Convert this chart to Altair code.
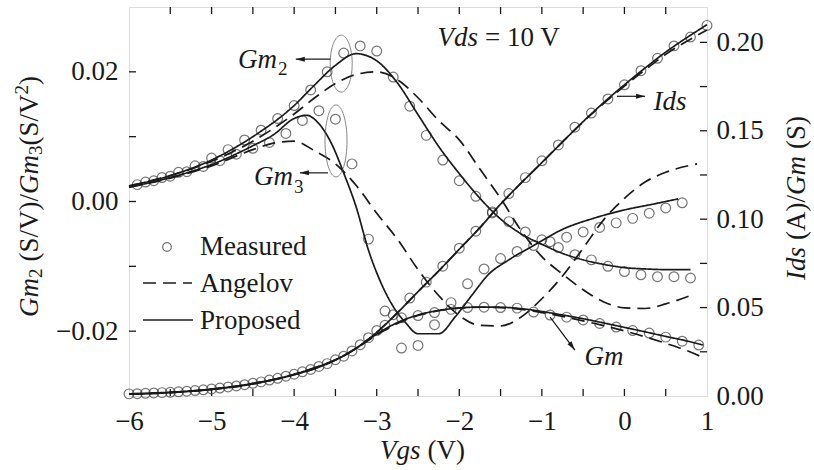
import altair as alt
import pandas as pd

FONT = "Liberation Serif"
INK = "#1a1a1a"
DOT = "#3c3c3c"

# ---------------- measured data (circles) ----------------
IDS_MEAS_X = [-6.0, -5.8, -5.6, -5.4, -5.2, -5.0, -4.8, -4.6, -4.4, -4.2, -4.0, -3.8,
              -3.6, -3.4, -3.2, -3.0, -2.8, -2.6, -2.4, -2.2, -2.0, -1.8, -1.6, -1.4,
              -1.2, -1.0, -0.8, -0.6, -0.4, -0.2, 0.0, 0.2, 0.4, 0.6, 0.8, 1.0]
IDS_MEAS = [0.0012, 0.0015, 0.0019, 0.0024, 0.0031, 0.0040, 0.0051, 0.0064, 0.0080, 0.0100,
            0.0123, 0.0150, 0.0183, 0.0225, 0.0290, 0.0370, 0.0460, 0.0554, 0.0644, 0.0734,
            0.0836, 0.0932, 0.1035, 0.1145, 0.1235, 0.1330, 0.1420, 0.1520, 0.1600, 0.1680,
            0.1760, 0.1840, 0.1910, 0.1980, 0.2030, 0.2096]

GM_MEAS_X = [-5.9, -5.7, -5.5, -5.3, -5.1, -4.9, -4.7, -4.5, -4.3, -4.1, -3.9, -3.7,
             -3.5, -3.3, -3.1, -2.9, -2.7, -2.5, -2.3, -2.1, -1.9, -1.7, -1.5, -1.3,
             -1.1, -0.9, -0.7, -0.5, -0.3, -0.1, 0.1, 0.3, 0.5, 0.7, 0.9]
GM_MEAS = [0.0013, 0.0017, 0.0021, 0.0027, 0.0035, 0.0045, 0.0057, 0.0072, 0.0090, 0.0112,
           0.0137, 0.0167, 0.0205, 0.0255, 0.0330, 0.0400, 0.0442, 0.0455, 0.0472, 0.0490,
           0.0500, 0.0502, 0.0500, 0.0497, 0.0475, 0.0458, 0.0446, 0.0430, 0.0410, 0.0390,
           0.0370, 0.0356, 0.0333, 0.0310, 0.0288]

GM2_MEAS_X = [-5.8, -5.6, -5.4, -5.2, -5.0, -4.8, -4.6, -4.4, -4.2, -4.0, -3.8, -3.6,
              -3.4, -3.2, -3.0, -2.8, -2.6, -2.4, -2.2, -2.0, -1.8, -1.6, -1.4, -1.2,
              -1.0, -0.8, -0.6, -0.4, -0.2, 0.0, 0.2, 0.4, 0.6, 0.8]
GM2_MEAS = [0.0030, 0.0037, 0.0045, 0.0055, 0.0067, 0.0080, 0.0095, 0.0110, 0.0128, 0.0148,
            0.0172, 0.0200, 0.0229, 0.0240, 0.0232, 0.0192, 0.0147, 0.0102, 0.0064, 0.0032,
            0.0008, -0.0016, -0.0031, -0.0047, -0.0059, -0.0071, -0.0082, -0.0090, -0.0100,
            -0.0108, -0.0113, -0.0116, -0.0116, -0.0118]

GM3_MEAS_X = [-5.9, -5.7, -5.5, -5.3, -5.1, -4.9, -4.7, -4.5, -4.3, -4.1, -3.9, -3.7,
              -3.5, -3.3, -3.1, -2.9, -2.7, -2.5, -2.3, -2.1, -1.9, -1.7, -1.5, -1.3,
              -1.1, -0.9, -0.7, -0.5, -0.3, -0.1, 0.1, 0.3, 0.5, 0.7]
GM3_MEAS = [0.0026, 0.0032, 0.0039, 0.0046, 0.0054, 0.0063, 0.0073, 0.0082, 0.0091, 0.0105,
            0.0125, 0.0140, 0.0127, 0.0058, -0.0058, -0.0169, -0.0226, -0.0222, -0.0190,
            -0.0156, -0.0127, -0.0104, -0.0088, -0.0077, -0.0068, -0.0062, -0.0055, -0.0047,
            -0.0040, -0.0033, -0.0026, -0.0018, -0.0010, -0.0002]

# ---------------- model curves ----------------
IDS_LINE_X = [-6.0, -5.5, -5.0, -4.5, -4.0, -3.75, -3.5, -3.25, -3.0, -2.75, -2.5, -2.25,
              -2.0, -1.75, -1.5, -1.25, -1.0, -0.75, -0.5, -0.25, 0.0, 0.25, 0.5, 0.75, 1.0]
IDS_PROP = [0.0010, 0.0019, 0.0037, 0.0068, 0.0120, 0.0155, 0.0203, 0.0270, 0.0360, 0.0470,
            0.0590, 0.0707, 0.0830, 0.0952, 0.1085, 0.1205, 0.1320, 0.1437, 0.1552, 0.1660,
            0.1760, 0.1855, 0.1945, 0.2025, 0.2100]
IDS_ANG = [0.0010, 0.0019, 0.0037, 0.0068, 0.0120, 0.0155, 0.0203, 0.0270, 0.0360, 0.0470,
           0.0590, 0.0707, 0.0830, 0.0952, 0.1085, 0.1205, 0.1320, 0.1437, 0.1550, 0.1655,
           0.1752, 0.1845, 0.1932, 0.2005, 0.2070]

GM_LINE_X = [-6.0, -5.5, -5.0, -4.5, -4.0, -3.75, -3.5, -3.25, -3.0, -2.75, -2.5, -2.25,
             -2.0, -1.75, -1.5, -1.25, -1.0, -0.75, -0.5, -0.25, 0.0, 0.25, 0.5, 0.75, 0.95]
GM_PROP = [0.0012, 0.0021, 0.0039, 0.0071, 0.0123, 0.0160, 0.0205, 0.0270, 0.0350, 0.0415,
           0.0458, 0.0484, 0.0498, 0.0503, 0.0502, 0.0494, 0.0478, 0.0458, 0.0437, 0.0413,
           0.0388, 0.0363, 0.0337, 0.0312, 0.0288]
GM_ANG = [0.0012, 0.0021, 0.0039, 0.0071, 0.0123, 0.0160, 0.0205, 0.0268, 0.0345, 0.0410,
          0.0455, 0.0482, 0.0497, 0.0502, 0.0500, 0.0490, 0.0472, 0.0450, 0.0425, 0.0398,
          0.0368, 0.0335, 0.0298, 0.0258, 0.0218]

GM2_LINE_X = [-6.0, -5.5, -5.0, -4.5, -4.0, -3.75, -3.5, -3.25, -3.0, -2.75, -2.5, -2.25,
              -2.0, -1.75, -1.5, -1.25, -1.0, -0.75, -0.5, -0.25, 0.0, 0.25, 0.5, 0.8]
GM2_PROP = [0.0024, 0.0040, 0.0064, 0.0100, 0.0148, 0.0180, 0.0210, 0.0228, 0.0217, 0.0183,
            0.0134, 0.0085, 0.0043, 0.0005, -0.0027, -0.0050, -0.0066, -0.0080, -0.0090,
            -0.0097, -0.0102, -0.0104, -0.0105, -0.0105]
GM2_ANG = [0.0024, 0.0040, 0.0062, 0.0093, 0.0135, 0.0160, 0.0182, 0.0196, 0.0200, 0.0188,
           0.0160, 0.0125, 0.0095, 0.0050, 0.0005, -0.0045, -0.0085, -0.0112, -0.0136,
           -0.0155, -0.0164, -0.0165, -0.0158, -0.0145]

GM3_PROP_X = [-6.0, -5.5, -5.0, -4.5, -4.25, -4.0, -3.85, -3.7, -3.55, -3.4, -3.25, -3.1,
              -2.95, -2.8, -2.65, -2.5, -2.25, -2.05, -1.85, -1.65, -1.4, -1.1, -0.75,
              -0.35, 0.0, 0.35, 0.65]
GM3_PROP = [0.0022, 0.0037, 0.0057, 0.0086, 0.0103, 0.0128, 0.0133, 0.0120, 0.0090, 0.0044,
            -0.0008, -0.0075, -0.0125, -0.0162, -0.0187, -0.0204, -0.0204, -0.0178, -0.0145,
            -0.0113, -0.0090, -0.0068, -0.0043, -0.0025, -0.0013, -0.0004, 0.0004]
GM3_ANG_X = [-6.0, -5.5, -5.0, -4.5, -4.25, -4.0, -3.75, -3.5, -3.25, -3.0, -2.75, -2.5,
             -2.25, -2.0, -1.75, -1.5, -1.25, -1.0, -0.75, -0.5, -0.25, 0.0, 0.25, 0.5, 0.88]
GM3_ANG = [0.0022, 0.0036, 0.0055, 0.0080, 0.0090, 0.0093, 0.0078, 0.0058, 0.0025, -0.0018,
           -0.0058, -0.0105, -0.0145, -0.0176, -0.0191, -0.0192, -0.0178, -0.0150, -0.0115,
           -0.0072, -0.0028, 0.0005, 0.0030, 0.0045, 0.0058]

# ---------------- axes ----------------
X_LABELS = [-6, -5, -4, -3, -2, -1, 0, 1]
X_MINOR = [-5.5, -5.0, -4.5, -4.0, -3.5, -3.0, -2.5, -2.0, -1.5, -1.0, -0.5, 0.0, 0.5]
LEFT_LABELS = [-0.02, 0.0, 0.02]
LEFT_MINOR = [-0.02, -0.01, 0.0, 0.01, 0.02]
RIGHT_LABELS = [0.0, 0.05, 0.10, 0.15, 0.20]
RIGHT_MINOR = [0.025, 0.05, 0.075, 0.10, 0.125, 0.15, 0.175, 0.20]
LEGEND_LABELS = ["Measured", "Angelov", "Proposed"]

W, H = 578, 389
XS = alt.Scale(domain=[-6, 1], nice=False, zero=False)
LS = alt.Scale(domain=[-0.03, 0.03], nice=False, zero=False)
RS = alt.Scale(domain=[0, 0.22], nice=False, zero=False)


def frame(xs, vs, curve, model=None):
    d = pd.DataFrame({"x": xs, "v": vs, "curve": curve})
    if model:
        d["model"] = model
    return d


left_pts = pd.concat([frame(GM2_MEAS_X, GM2_MEAS, "Gm2"), frame(GM3_MEAS_X, GM3_MEAS, "Gm3")])
right_pts = pd.concat([frame(IDS_MEAS_X, IDS_MEAS, "Ids"), frame(GM_MEAS_X, GM_MEAS, "Gm")])
left_lines = pd.concat([
    frame(GM2_LINE_X, GM2_PROP, "Gm2 p", "Proposed"),
    frame(GM2_LINE_X, GM2_ANG, "Gm2 a", "Angelov"),
    frame(GM3_PROP_X, GM3_PROP, "Gm3 p", "Proposed"),
    frame(GM3_ANG_X, GM3_ANG, "Gm3 a", "Angelov"),
])
right_lines = pd.concat([
    frame(IDS_LINE_X, IDS_PROP, "Ids p", "Proposed"),
    frame(IDS_LINE_X, IDS_ANG, "Ids a", "Angelov"),
    frame(GM_LINE_X, GM_PROP, "Gm p", "Proposed"),
    frame(GM_LINE_X, GM_ANG, "Gm a", "Angelov"),
])

label_style = dict(ticks=False, domain=False, grid=False, labelFont=FONT, labelFontSize=27,
                   labelColor=INK, labelOverlap=False, title=None)
x_axis = alt.Axis(values=X_LABELS, format="d", labelPadding=12, labelFlush=False, **label_style)
left_axis = alt.Axis(orient="left", values=LEFT_LABELS, format=".2f", labelPadding=11, **label_style)
right_axis = alt.Axis(orient="right", values=RIGHT_LABELS, format=".2f", labelPadding=9, **label_style)

dash = alt.StrokeDash("model:N", scale=alt.Scale(domain=["Angelov", "Proposed"], range=[[13, 7], [1, 0]]),
                      legend=None)

# every layer carries the same axis definition so the shared axes merge cleanly
XN = alt.X("x:Q", scale=XS, axis=x_axis)
X2N = alt.X("x2:Q", scale=XS, axis=x_axis)
YL = alt.Y("v:Q", scale=LS, axis=left_axis)
YL2 = alt.Y("v2:Q", scale=LS, axis=left_axis)
YR = alt.Y("v:Q", scale=RS, axis=right_axis)
YR2 = alt.Y("v2:Q", scale=RS, axis=right_axis)

ARROW = "M0,0 L0.55,2 L-0.55,2 Z"


def ellipse(rx):
    k = 0.5523
    a, b = k * rx, rx
    return (f"M0,-1 C{a:.3f},-1 {b:.3f},-{k} {b:.3f},0 C{b:.3f},{k} {a:.3f},1 0,1 "
            f"C-{a:.3f},1 -{b:.3f},{k} -{b:.3f},0 C-{b:.3f},-{k} -{a:.3f},-1 0,-1 Z")


# ---------------- annotations ----------------
left_arrows = pd.DataFrame({"x": [-3.56, -3.59], "x2": [-3.98, -3.93],
                            "v": [0.02195, 0.00442], "v2": [0.02195, 0.00442], "ang": [270, 270]})
right_arrows = pd.DataFrame({"x": [-0.09, -0.90], "x2": [0.25, -0.60],
                             "v": [0.1695, 0.0446], "v2": [0.1695, 0.0260], "ang": [90, 143]})
left_italic = pd.DataFrame({"x": [-4.208, -4.014, -1.773], "v": [0.0206, 0.00257, 0.02395],
                            "t": ["Gm", "Gm", "Vds"]})
left_sub = pd.DataFrame({"x": [-4.196, -4.002], "v": [0.0195, 0.00134], "t": ["2", "3"]})
left_upright = pd.DataFrame({"x": [-1.773], "v": [0.02395], "t": ["= 10 V"]})
right_italic = pd.DataFrame({"x": [0.552, -0.247], "v": [0.1616, 0.0175], "t": ["Ids", "Gm"]})

one = pd.DataFrame({"k": [0]})


def px_text(text, x, y, size=27, italic=False, angle=0, align="left", baseline="alphabetic"):
    props = dict(align=align, baseline=baseline, font=FONT, fontSize=size, color=INK, angle=angle)
    if italic:
        props["fontStyle"] = "italic"
    return alt.Chart(one).mark_text(**props).encode(x=alt.value(x), y=alt.value(y), text=alt.value(text))


left_layers = [
    alt.Chart(left_pts).mark_point(shape="circle", filled=False, size=95, color=DOT, strokeWidth=1.2)
    .encode(x=XN, y=YL, detail="curve:N"),
    alt.Chart(left_lines).mark_line(color=INK, strokeWidth=1.7, interpolate="monotone")
    .encode(x=XN, y=YL, detail="curve:N", strokeDash=dash),
    # inward ticks on bottom, top and left edges
    alt.Chart(pd.DataFrame({"x": X_MINOR})).mark_rule(color=INK, strokeWidth=1.3)
    .encode(x=XN, y=alt.value(H), y2=alt.value(H - 7)),
    alt.Chart(pd.DataFrame({"x": X_MINOR})).mark_rule(color=INK, strokeWidth=1.3)
    .encode(x=XN, y=alt.value(0), y2=alt.value(7)),
    alt.Chart(pd.DataFrame({"v": LEFT_MINOR})).mark_rule(color=INK, strokeWidth=1.3)
    .encode(y=YL, x=alt.value(0), x2=alt.value(7)),
    # ellipses grouping the Gm2 / Gm3 curves
    alt.Chart(pd.DataFrame({"x": [-3.43], "v": [0.02126]}))
    .mark_point(shape=ellipse(0.386), size=3249, filled=False, color="#555", strokeWidth=1.0)
    .encode(x=XN, y=YL),
    alt.Chart(pd.DataFrame({"x": [-3.493], "v": [0.00934]}))
    .mark_point(shape=ellipse(0.306), size=5184, filled=False, color="#555", strokeWidth=1.0)
    .encode(x=XN, y=YL),
    alt.Chart(left_arrows).mark_rule(color=INK, strokeWidth=1.2)
    .encode(x=XN, x2="x2:Q", y=YL, y2="v2:Q"),
    alt.Chart(left_arrows).mark_point(shape=ARROW, filled=True, size=81, color=INK, opacity=1)
    .encode(x=X2N, y=YL2, angle=alt.Angle("ang:Q", scale=None)),
    alt.Chart(left_italic).mark_text(align="right", baseline="alphabetic", font=FONT, fontSize=27,
                                     fontStyle="italic", color=INK)
    .encode(x=XN, y=YL, text="t:N"),
    alt.Chart(left_sub).mark_text(align="left", baseline="alphabetic", font=FONT, fontSize=19, color=INK)
    .encode(x=XN, y=YL, text="t:N"),
    alt.Chart(left_upright).mark_text(align="left", baseline="alphabetic", font=FONT, fontSize=27,
                                      color=INK, dx=7)
    .encode(x=XN, y=YL, text="t:N"),
    # legend
    alt.Chart(one).mark_point(shape="circle", filled=False, size=75, color=DOT, strokeWidth=1.2)
    .encode(x=alt.value(38), y=alt.value(240)),
    alt.Chart(one).mark_rule(color=INK, strokeWidth=1.7, strokeDash=[13, 7])
    .encode(x=alt.value(14), x2=alt.value(63), y=alt.value(276)),
    alt.Chart(one).mark_rule(color=INK, strokeWidth=1.7)
    .encode(x=alt.value(14), x2=alt.value(64), y=alt.value(313)),
    px_text(LEGEND_LABELS[0], 71, 248),
    px_text(LEGEND_LABELS[1], 71, 285),
    px_text(LEGEND_LABELS[2], 71, 322),
    # x-axis title
    px_text("Vgs", 251, 452, italic=True),
    px_text("(V)", 298.5, 452),
    # left-axis title, read bottom to top
    px_text("Gm", -99, 310, italic=True, angle=270, baseline="middle"),
    px_text("2", -93, 271, size=19, angle=270, baseline="middle"),
    px_text("(S/V)/", -99, 254.5, angle=270, baseline="middle"),
    px_text("Gm", -99, 187, italic=True, angle=270, baseline="middle"),
    px_text("3", -93, 148, size=19, angle=270, baseline="middle"),
    px_text("(S/V", -99, 138.5, angle=270, baseline="middle"),
    px_text("2", -107, 87.5, size=19, angle=270, baseline="middle"),
    px_text(")", -99, 78, angle=270, baseline="middle"),
]

right_layers = [
    alt.Chart(right_pts).mark_point(shape="circle", filled=False, size=95, color=DOT, strokeWidth=1.2)
    .encode(x=XN, y=YR, detail="curve:N"),
    alt.Chart(right_lines).mark_line(color=INK, strokeWidth=1.7, interpolate="monotone")
    .encode(x=XN, y=YR, detail="curve:N", strokeDash=dash),
    alt.Chart(pd.DataFrame({"v": RIGHT_MINOR})).mark_rule(color=INK, strokeWidth=1.3)
    .encode(y=YR, x=alt.value(W - 7), x2=alt.value(W)),
    alt.Chart(right_arrows).mark_rule(color=INK, strokeWidth=1.2)
    .encode(x=XN, x2="x2:Q", y=YR, y2="v2:Q"),
    alt.Chart(right_arrows).mark_point(shape=ARROW, filled=True, size=81, color=INK, opacity=1)
    .encode(x=X2N, y=YR2, angle=alt.Angle("ang:Q", scale=None)),
    alt.Chart(right_italic).mark_text(align="center", baseline="alphabetic", font=FONT, fontSize=27,
                                      fontStyle="italic", color=INK)
    .encode(x=XN, y=YR, text="t:N"),
    # right-axis title, read bottom to top
    px_text("Ids", 668, 273, italic=True, angle=270, baseline="middle"),
    px_text("(A)/", 668, 233, angle=270, baseline="middle"),
    px_text("Gm", 668, 188, italic=True, angle=270, baseline="middle"),
    px_text("(S)", 668, 142, angle=270, baseline="middle"),
]

chart = (
    alt.layer(alt.layer(*left_layers), alt.layer(*right_layers))
    .resolve_scale(y="independent")
    .properties(width=W, height=H, autosize=alt.AutoSizeParams(type="none"),
                padding={"left": 129, "top": 7, "right": 107, "bottom": 74})
    .configure_view(stroke=INK, strokeWidth=1.5)
    .configure_axis(labelFont=FONT, labelFontSize=27, labelColor=INK)
    .configure(background="white")
)

chart.save("out.html", embed_options={"renderer": "svg", "actions": False})
